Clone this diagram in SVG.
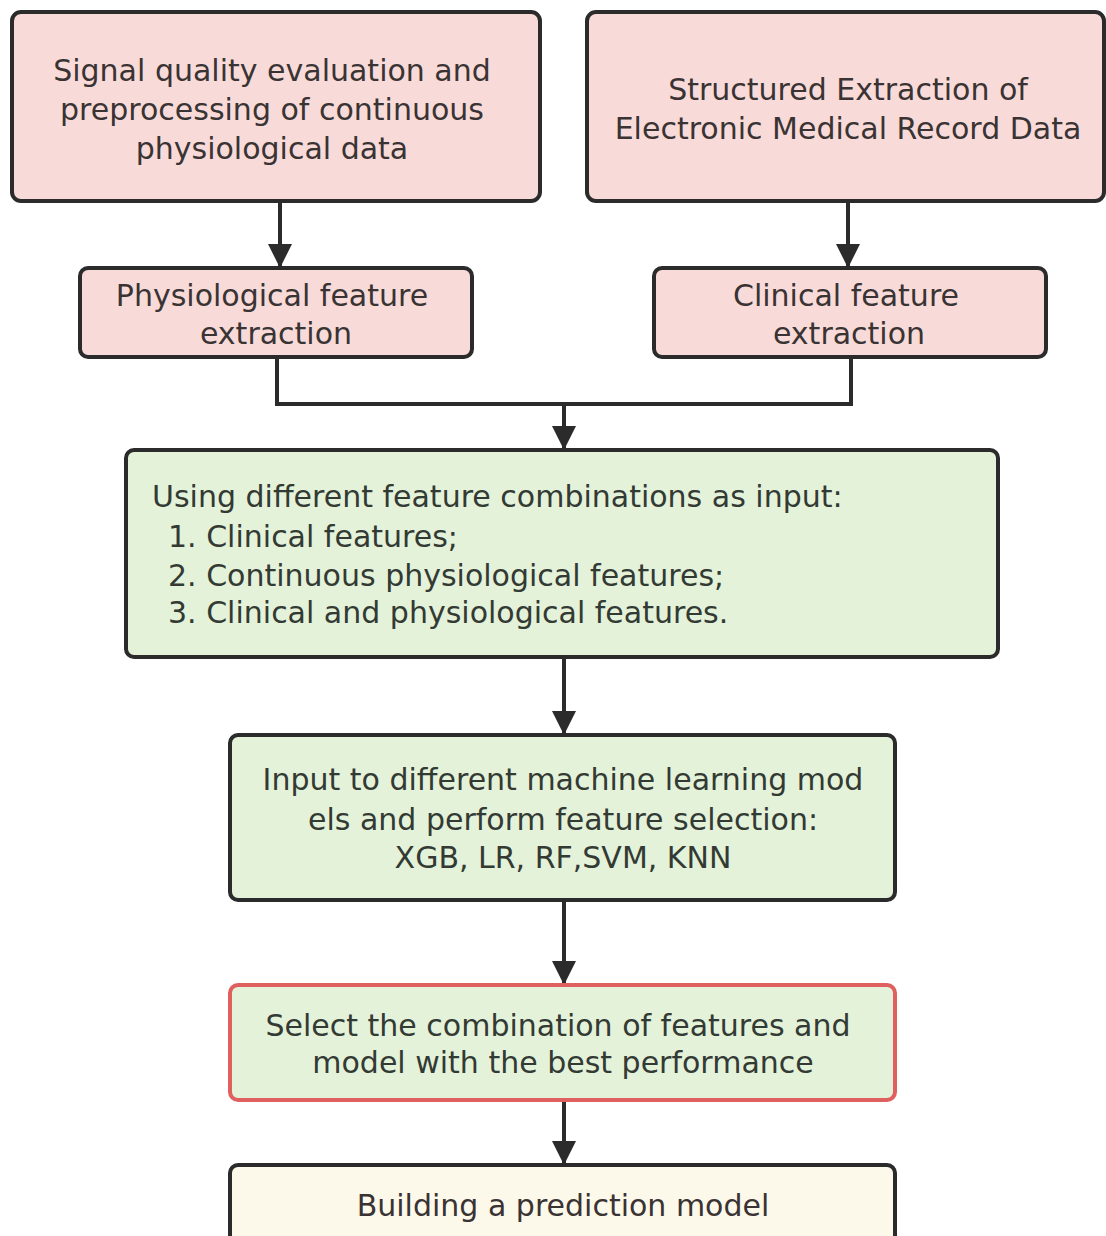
<svg xmlns="http://www.w3.org/2000/svg" width="1106" height="1236" viewBox="0 0 1106 1236">
<defs>
<style>
.pink{fill:#f8dbd9;stroke:#2b2b2b;stroke-width:4}
.green{fill:#e4f2da;stroke:#2b2b2b;stroke-width:4}
.best{fill:#e4f2da;stroke:#e06060;stroke-width:4}
.cream{fill:#fdf9ea;stroke:#2b2b2b;stroke-width:4}
text{font-family:"DejaVu Sans","Open Sans","Liberation Sans",sans-serif;font-size:30px;fill:#3a3333}
.c{text-anchor:middle}
.gt{fill:#333a33}
.wire{fill:none;stroke:#2b2b2b;stroke-width:4}
</style>
<marker id="ah" markerUnits="userSpaceOnUse" markerWidth="24" markerHeight="30" refX="24" refY="12" orient="auto">
<path d="M0,0 L24,12 L0,24 Z" fill="#2b2b2b"/>
</marker>
</defs>
<rect width="1106" height="1236" fill="#ffffff"/>
<g id="connectors">
<line class="wire" x1="280" y1="201" x2="280" y2="268" marker-end="url(#ah)"/>
<line class="wire" x1="848" y1="201" x2="848" y2="268" marker-end="url(#ah)"/>
<polyline class="wire" points="277,357 277,404 851,404 851,357"/>
<line class="wire" x1="564" y1="404" x2="564" y2="450" marker-end="url(#ah)"/>
<line class="wire" x1="564" y1="657" x2="564" y2="735" marker-end="url(#ah)"/>
<line class="wire" x1="564" y1="900" x2="564" y2="985" marker-end="url(#ah)"/>
<line class="wire" x1="564" y1="1100" x2="564" y2="1165" marker-end="url(#ah)"/>
</g>
<g id="node-signal">
<rect class="pink" x="12" y="12" width="528" height="189" rx="9"/>
<text class="c" x="272" y="81">Signal quality evaluation and</text>
<text class="c" x="272" y="120">preprocessing of continuous</text>
<text class="c" x="272" y="159">physiological data</text>
</g>
<g id="node-emr">
<rect class="pink" x="587" y="12" width="517" height="189" rx="9"/>
<text class="c" x="848" y="100">Structured Extraction of</text>
<text class="c" x="848" y="139">Electronic Medical Record Data</text>
</g>
<g id="node-phys">
<rect class="pink" x="80" y="268" width="392" height="89" rx="8"/>
<text class="c" x="272" y="306">Physiological feature</text>
<text class="c" x="276" y="344">extraction</text>
</g>
<g id="node-clin">
<rect class="pink" x="654" y="268" width="392" height="89" rx="8"/>
<text class="c" x="846" y="306">Clinical feature</text>
<text class="c" x="849" y="344">extraction</text>
</g>
<g id="node-combo">
<rect class="green" x="126" y="450" width="872" height="207" rx="8"/>
<text class="gt" x="152" y="507">Using different feature combinations as input:</text>
<text class="gt" x="168" y="547">1. Clinical features;</text>
<text class="gt" x="168" y="586">2. Continuous physiological features;</text>
<text class="gt" x="168" y="623">3. Clinical and physiological features.</text>
</g>
<g id="node-models">
<rect class="green" x="230" y="735" width="665" height="165" rx="8"/>
<text class="c gt" x="563" y="790">Input to different machine learning mod</text>
<text class="c gt" x="563" y="830">els and perform feature selection:</text>
<text class="c gt" x="563" y="868">XGB, LR, RF,SVM, KNN</text>
</g>
<g id="node-best">
<rect class="best" x="230" y="985" width="665" height="115" rx="8"/>
<text class="c gt" x="558" y="1036">Select the combination of features and</text>
<text class="c gt" x="563" y="1073">model with the best performance</text>
</g>
<g id="node-build">
<rect class="cream" x="230" y="1165" width="665" height="90" rx="8"/>
<text class="c" x="563" y="1216">Building a prediction model</text>
</g>
</svg>
